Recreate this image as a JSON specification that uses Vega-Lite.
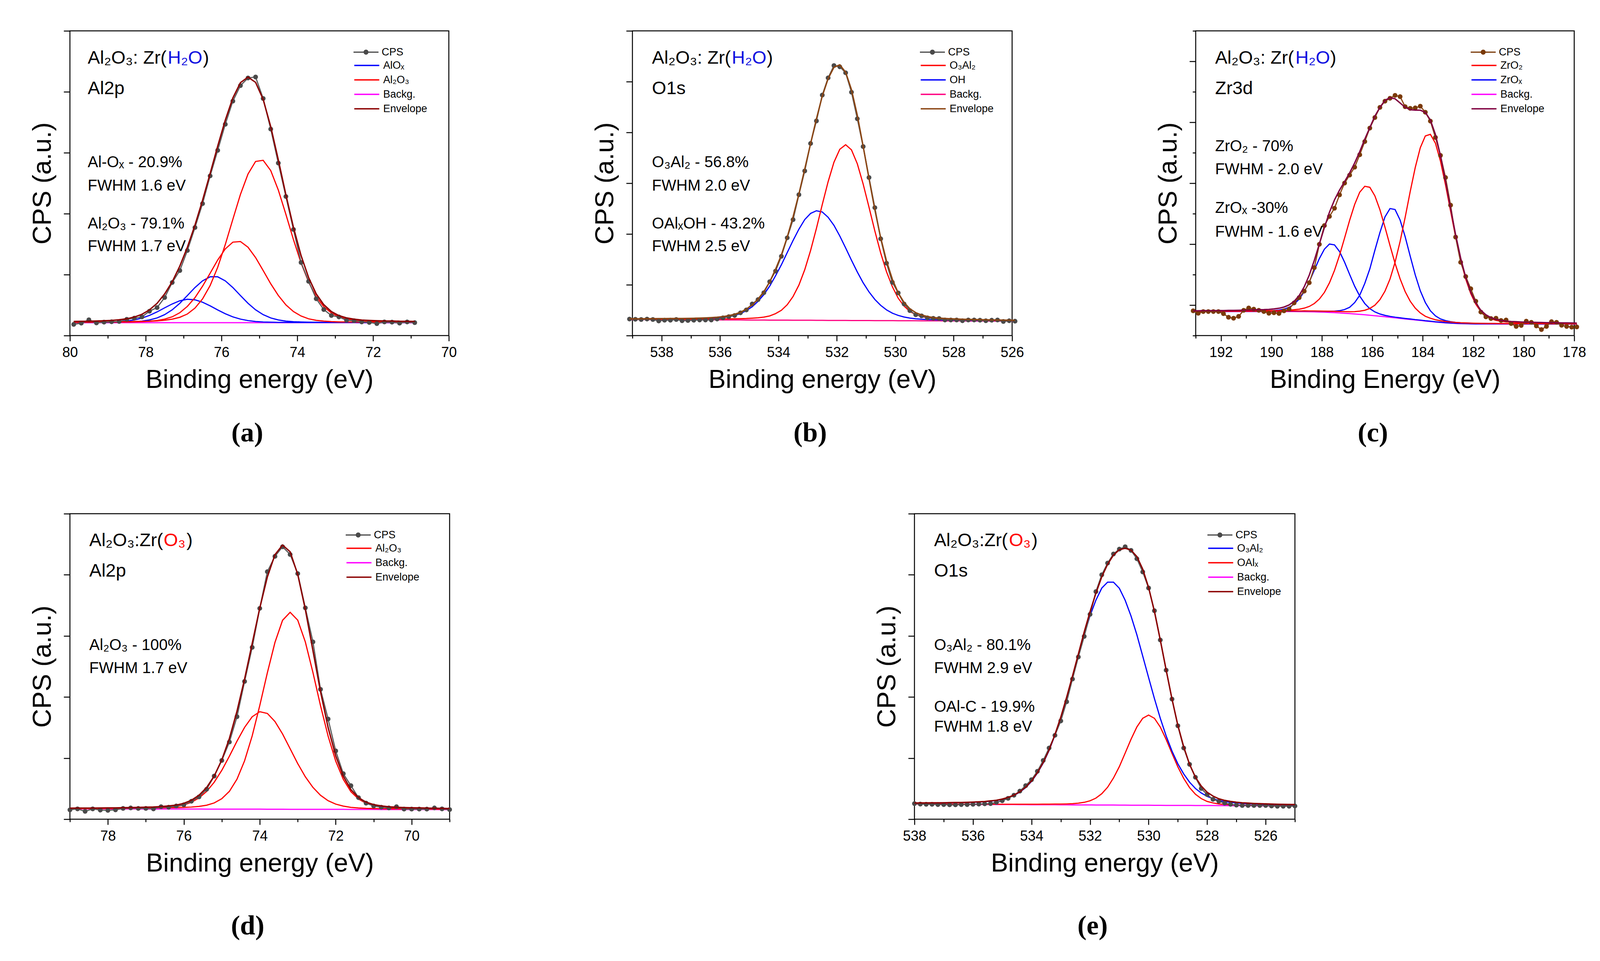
{
"$schema": "https://vega.github.io/schema/vega-lite/v6.json",
"background": "white",
"padding": {"left": 74, "top": 76, "right": 5, "bottom": 5},
"config": {
 "font": "Liberation Sans",
 "view": {"stroke": "black", "strokeWidth": 2.5},
 "axis": {"domain": false, "grid": false, "tickColor": "black", "tickWidth": 2.5, "labelColor": "black", "titleColor": "black", "titleFontWeight": "normal", "labelFlush": false, "labelOverlap": false, "labelFont": "Liberation Sans", "titleFont": "Liberation Sans"},
 "axisX": {"tickSize": 14, "labelFontSize": 36, "labelPadding": 12, "titleFontSize": 66, "titlePadding": 20, "format": "d"},
 "axisY": {"tickSize": 16, "labels": false, "titleFontSize": 67, "titlePadding": 18},
 "legend": {"orient": "none", "symbolType": "stroke", "symbolSize": 4096, "symbolStrokeWidth": 3.5, "clipHeight": 37, "rowPadding": 0, "labelFontSize": 27, "labelFont": "Liberation Sans", "labelColor": "black", "labelOffset": 8, "padding": 0},
 "title": {"orient": "bottom", "font": "Liberation Serif", "fontSize": 70, "fontWeight": "bold", "offset": 70, "anchor": "middle", "color": "black", "dx": -31},
 "text": {"font": "Liberation Sans", "color": "black", "align": "left", "baseline": "alphabetic"}
},
"datasets": {
"a": [
{"x":79.9,"cps":184,"b1":216,"b2":215,"r1":221,"r2":217,"bg":212,"env":233},
{"x":79.7,"cps":204,"b1":216,"b2":215,"r1":221,"r2":218,"bg":212,"env":234},
{"x":79.5,"cps":259,"b1":216,"b2":215,"r1":222,"r2":218,"bg":212,"env":235},
{"x":79.3,"cps":208,"b1":217,"b2":216,"r1":223,"r2":219,"bg":212,"env":239},
{"x":79.1,"cps":220,"b1":217,"b2":218,"r1":225,"r2":220,"bg":212,"env":244},
{"x":78.9,"cps":227,"b1":218,"b2":221,"r1":226,"r2":220,"bg":212,"env":249},
{"x":78.7,"cps":231,"b1":220,"b2":227,"r1":227,"r2":221,"bg":212,"env":259},
{"x":78.5,"cps":267,"b1":223,"b2":237,"r1":228,"r2":223,"bg":212,"env":275},
{"x":78.3,"cps":286,"b1":228,"b2":257,"r1":230,"r2":225,"bg":212,"env":304},
{"x":78.1,"cps":306,"b1":237,"b2":287,"r1":232,"r2":229,"bg":212,"env":349},
{"x":77.9,"cps":400,"b1":256,"b2":331,"r1":236,"r2":235,"bg":212,"env":422},
{"x":77.7,"cps":459,"b1":289,"b2":388,"r1":241,"r2":247,"bg":212,"env":529},
{"x":77.5,"cps":624,"b1":343,"b2":455,"r1":251,"r2":270,"bg":212,"env":683},
{"x":77.3,"cps":871,"b1":423,"b2":519,"r1":269,"r2":308,"bg":212,"env":883},
{"x":77.1,"cps":1067,"b1":530,"b2":571,"r1":300,"r2":375,"bg":212,"env":1140},
{"x":76.9,"cps":1396,"b1":657,"b2":596,"r1":354,"r2":479,"bg":212,"env":1450},
{"x":76.7,"cps":1773,"b1":788,"b2":587,"r1":451,"r2":622,"bg":212,"env":1812},
{"x":76.5,"cps":2165,"b1":898,"b2":547,"r1":601,"r2":810,"bg":212,"env":2220},
{"x":76.3,"cps":2620,"b1":964,"b2":488,"r1":820,"r2":1023,"bg":212,"env":2659},
{"x":76.1,"cps":3039,"b1":964,"b2":421,"r1":1120,"r2":1240,"bg":212,"env":3109},
{"x":75.9,"cps":3467,"b1":898,"b2":358,"r1":1493,"r2":1422,"bg":212,"env":3535},
{"x":75.7,"cps":3847,"b1":788,"b2":307,"r1":1908,"r2":1533,"bg":212,"env":3900},
{"x":75.5,"cps":4102,"b1":657,"b2":270,"r1":2316,"r2":1543,"bg":212,"env":4150},
{"x":75.3,"cps":4227,"b1":530,"b2":246,"r1":2651,"r2":1450,"bg":212,"env":4241},
{"x":75.1,"cps":4243,"b1":423,"b2":231,"r1":2857,"r2":1280,"bg":212,"env":4155},
{"x":74.9,"cps":3890,"b1":343,"b2":223,"r1":2876,"r2":1068,"bg":212,"env":3874},
{"x":74.7,"cps":3388,"b1":289,"b2":219,"r1":2707,"r2":850,"bg":212,"env":3429},
{"x":74.5,"cps":2831,"b1":256,"b2":217,"r1":2388,"r2":658,"bg":212,"env":2883},
{"x":74.3,"cps":2282,"b1":237,"b2":216,"r1":1989,"r2":504,"bg":212,"env":2310},
{"x":74.1,"cps":1741,"b1":228,"b2":215,"r1":1573,"r2":394,"bg":212,"env":1774},
{"x":73.9,"cps":1200,"b1":223,"b2":215,"r1":1190,"r2":321,"bg":212,"env":1313},
{"x":73.7,"cps":890,"b1":220,"b2":215,"r1":877,"r2":275,"bg":212,"env":951},
{"x":73.5,"cps":604,"b1":218,"b2":214,"r1":638,"r2":250,"bg":212,"env":684},
{"x":73.3,"cps":427,"b1":217,"b2":214,"r1":475,"r2":237,"bg":212,"env":507},
{"x":73.1,"cps":329,"b1":217,"b2":214,"r1":370,"r2":229,"bg":212,"env":394},
{"x":72.9,"cps":306,"b1":216,"b2":214,"r1":308,"r2":225,"bg":212,"env":327},
{"x":72.7,"cps":251,"b1":216,"b2":214,"r1":274,"r2":223,"bg":212,"env":291},
{"x":72.5,"cps":243,"b1":216,"b2":214,"r1":254,"r2":222,"bg":212,"env":270},
{"x":72.3,"cps":224,"b1":215,"b2":213,"r1":243,"r2":220,"bg":212,"env":255},
{"x":72.1,"cps":216,"b1":215,"b2":213,"r1":237,"r2":220,"bg":212,"env":249},
{"x":71.9,"cps":196,"b1":215,"b2":213,"r1":233,"r2":219,"bg":212,"env":244},
{"x":71.7,"cps":224,"b1":215,"b2":213,"r1":230,"r2":218,"bg":212,"env":240},
{"x":71.5,"cps":220,"b1":215,"b2":213,"r1":229,"r2":218,"bg":212,"env":239},
{"x":71.3,"cps":204,"b1":214,"b2":213,"r1":227,"r2":217,"bg":212,"env":235},
{"x":71.1,"cps":224,"b1":214,"b2":213,"r1":226,"r2":217,"bg":212,"env":234},
{"x":70.9,"cps":212,"b1":214,"b2":213,"r1":225,"r2":217,"bg":212,"env":233}
],
"b": [
{"x":539.1,"cps":325,"r":323,"b":324,"bg":316,"env":331},
{"x":538.9,"cps":321,"r":323,"b":324,"bg":316,"env":331},
{"x":538.7,"cps":316,"r":322,"b":324,"bg":315,"env":331},
{"x":538.5,"cps":325,"r":323,"b":325,"bg":315,"env":333},
{"x":538.3,"cps":316,"r":322,"b":324,"bg":314,"env":332},
{"x":538.1,"cps":288,"r":323,"b":325,"bg":314,"env":334},
{"x":537.9,"cps":302,"r":322,"b":325,"bg":313,"env":334},
{"x":537.7,"cps":302,"r":323,"b":326,"bg":313,"env":336},
{"x":537.5,"cps":316,"r":323,"b":325,"bg":312,"env":336},
{"x":537.3,"cps":292,"r":323,"b":326,"bg":312,"env":337},
{"x":537.1,"cps":297,"r":323,"b":327,"bg":311,"env":339},
{"x":536.9,"cps":302,"r":324,"b":328,"bg":311,"env":341},
{"x":536.7,"cps":307,"r":324,"b":330,"bg":310,"env":344},
{"x":536.5,"cps":307,"r":325,"b":333,"bg":310,"env":348},
{"x":536.3,"cps":307,"r":326,"b":337,"bg":309,"env":354},
{"x":536.1,"cps":325,"r":327,"b":344,"bg":309,"env":362},
{"x":535.9,"cps":349,"r":328,"b":354,"bg":308,"env":374},
{"x":535.7,"cps":373,"r":329,"b":371,"bg":308,"env":392},
{"x":535.5,"cps":396,"r":331,"b":395,"bg":307,"env":419},
{"x":535.3,"cps":448,"r":333,"b":432,"bg":307,"env":458},
{"x":535.1,"cps":505,"r":336,"b":492,"bg":306,"env":522},
{"x":534.9,"cps":623,"r":342,"b":567,"bg":306,"env":603},
{"x":534.7,"cps":708,"r":350,"b":674,"bg":305,"env":719},
{"x":534.5,"cps":844,"r":364,"b":806,"bg":305,"env":865},
{"x":534.3,"cps":1061,"r":387,"b":974,"bg":304,"env":1057},
{"x":534.1,"cps":1269,"r":432,"b":1177,"bg":304,"env":1305},
{"x":533.9,"cps":1561,"r":497,"b":1394,"bg":303,"env":1588},
{"x":533.7,"cps":1925,"r":607,"b":1634,"bg":303,"env":1938},
{"x":533.5,"cps":2283,"r":769,"b":1872,"bg":302,"env":2339},
{"x":533.3,"cps":2774,"r":994,"b":2095,"bg":302,"env":2787},
{"x":533.1,"cps":3241,"r":1297,"b":2284,"bg":301,"env":3280},
{"x":532.9,"cps":3783,"r":1675,"b":2405,"bg":301,"env":3779},
{"x":532.7,"cps":4226,"r":2110,"b":2458,"bg":300,"env":4268},
{"x":532.5,"cps":4736,"r":2580,"b":2434,"bg":300,"env":4714},
{"x":532.3,"cps":5075,"r":3029,"b":2329,"bg":299,"env":5059},
{"x":532.1,"cps":5316,"r":3413,"b":2170,"bg":299,"env":5284},
{"x":531.9,"cps":5292,"r":3668,"b":1961,"bg":298,"env":5331},
{"x":531.7,"cps":5175,"r":3758,"b":1726,"bg":298,"env":5186},
{"x":531.5,"cps":4792,"r":3657,"b":1483,"bg":297,"env":4843},
{"x":531.3,"cps":4269,"r":3383,"b":1252,"bg":297,"env":4338},
{"x":531.1,"cps":3722,"r":2984,"b":1039,"bg":296,"env":3727},
{"x":530.9,"cps":3113,"r":2528,"b":860,"bg":296,"env":3092},
{"x":530.7,"cps":2519,"r":2060,"b":712,"bg":295,"env":2477},
{"x":530.5,"cps":1906,"r":1627,"b":595,"bg":295,"env":1927},
{"x":530.3,"cps":1425,"r":1256,"b":506,"bg":294,"env":1468},
{"x":530.1,"cps":1047,"r":962,"b":441,"bg":294,"env":1109},
{"x":529.9,"cps":840,"r":736,"b":397,"bg":293,"env":840},
{"x":529.7,"cps":623,"r":580,"b":366,"bg":293,"env":653},
{"x":529.5,"cps":491,"r":475,"b":344,"bg":292,"env":527},
{"x":529.3,"cps":410,"r":413,"b":331,"bg":292,"env":452},
{"x":529.1,"cps":387,"r":374,"b":321,"bg":291,"env":404},
{"x":528.9,"cps":349,"r":350,"b":316,"bg":291,"env":375},
{"x":528.7,"cps":340,"r":334,"b":311,"bg":290,"env":355},
{"x":528.5,"cps":335,"r":326,"b":308,"bg":290,"env":344},
{"x":528.3,"cps":307,"r":319,"b":306,"bg":289,"env":336},
{"x":528.1,"cps":307,"r":315,"b":304,"bg":289,"env":330},
{"x":527.9,"cps":307,"r":312,"b":302,"bg":288,"env":326},
{"x":527.7,"cps":292,"r":309,"b":301,"bg":288,"env":322},
{"x":527.5,"cps":307,"r":307,"b":299,"bg":287,"env":319},
{"x":527.3,"cps":307,"r":305,"b":298,"bg":287,"env":316},
{"x":527.1,"cps":302,"r":303,"b":297,"bg":286,"env":314},
{"x":526.9,"cps":292,"r":301,"b":296,"bg":286,"env":311},
{"x":526.7,"cps":302,"r":299,"b":294,"bg":285,"env":308},
{"x":526.5,"cps":307,"r":298,"b":294,"bg":285,"env":307},
{"x":526.3,"cps":278,"r":296,"b":292,"bg":284,"env":304},
{"x":526.1,"cps":292,"r":295,"b":292,"bg":284,"env":303},
{"x":525.9,"cps":283,"r":293,"b":290,"bg":283,"env":300}
],
"c": [
{"x":193.1,"cps":406,"r1":397,"r2":398,"b1":396,"b2":396,"bg":394,"env":405},
{"x":192.9,"cps":366,"r1":398,"r2":399,"b1":396,"b2":396,"bg":394,"env":407},
{"x":192.7,"cps":394,"r1":398,"r2":399,"b1":396,"b2":397,"bg":394,"env":408},
{"x":192.5,"cps":394,"r1":398,"r2":399,"b1":396,"b2":397,"bg":394,"env":408},
{"x":192.3,"cps":394,"r1":398,"r2":400,"b1":396,"b2":397,"bg":394,"env":409},
{"x":192.1,"cps":394,"r1":398,"r2":400,"b1":396,"b2":398,"bg":394,"env":410},
{"x":191.9,"cps":359,"r1":399,"r2":400,"b1":396,"b2":398,"bg":394,"env":411},
{"x":191.7,"cps":300,"r1":399,"r2":401,"b1":397,"b2":398,"bg":394,"env":413},
{"x":191.5,"cps":284,"r1":399,"r2":401,"b1":397,"b2":399,"bg":394,"env":414},
{"x":191.3,"cps":315,"r1":399,"r2":402,"b1":397,"b2":399,"bg":394,"env":415},
{"x":191.1,"cps":414,"r1":400,"r2":402,"b1":397,"b2":400,"bg":394,"env":417},
{"x":190.9,"cps":453,"r1":400,"r2":403,"b1":397,"b2":400,"bg":394,"env":418},
{"x":190.7,"cps":433,"r1":400,"r2":404,"b1":398,"b2":401,"bg":394,"env":421},
{"x":190.5,"cps":414,"r1":401,"r2":405,"b1":398,"b2":402,"bg":394,"env":424},
{"x":190.3,"cps":394,"r1":401,"r2":406,"b1":398,"b2":403,"bg":394,"env":426},
{"x":190.1,"cps":366,"r1":401,"r2":407,"b1":398,"b2":406,"bg":394,"env":430},
{"x":189.9,"cps":374,"r1":402,"r2":409,"b1":399,"b2":410,"bg":394,"env":438},
{"x":189.7,"cps":363,"r1":403,"r2":410,"b1":399,"b2":418,"bg":394,"env":448},
{"x":189.5,"cps":406,"r1":403,"r2":413,"b1":400,"b2":434,"bg":394,"env":468},
{"x":189.3,"cps":433,"r1":404,"r2":417,"b1":400,"b2":463,"bg":394,"env":502},
{"x":189.1,"cps":536,"r1":404,"r2":424,"b1":401,"b2":515,"bg":394,"env":562},
{"x":188.9,"cps":623,"r1":404,"r2":433,"b1":401,"b2":597,"bg":393,"env":656},
{"x":188.7,"cps":729,"r1":405,"r2":450,"b1":402,"b2":722,"bg":393,"env":800},
{"x":188.5,"cps":867,"r1":404,"r2":478,"b1":401,"b2":881,"bg":391,"env":991},
{"x":188.3,"cps":1115,"r1":404,"r2":526,"b1":401,"b2":1073,"bg":390,"env":1234},
{"x":188.1,"cps":1498,"r1":403,"r2":599,"b1":399,"b2":1263,"bg":387,"env":1503},
{"x":187.9,"cps":1805,"r1":401,"r2":708,"b1":398,"b2":1418,"bg":384,"env":1773},
{"x":187.7,"cps":1955,"r1":399,"r2":865,"b1":398,"b2":1502,"bg":380,"env":2024},
{"x":187.5,"cps":2089,"r1":397,"r2":1069,"b1":400,"b2":1488,"bg":376,"env":2226},
{"x":187.3,"cps":2309,"r1":394,"r2":1319,"b1":408,"b2":1379,"bg":371,"env":2387},
{"x":187.1,"cps":2502,"r1":392,"r2":1602,"b1":427,"b2":1204,"bg":366,"env":2527},
{"x":186.9,"cps":2633,"r1":391,"r2":1891,"b1":464,"b2":1003,"bg":360,"env":2669},
{"x":186.7,"cps":2763,"r1":393,"r2":2152,"b1":541,"b2":809,"bg":354,"env":2833},
{"x":186.5,"cps":2967,"r1":400,"r2":2353,"b1":661,"b2":648,"bg":348,"env":3018},
{"x":186.3,"cps":3184,"r1":415,"r2":2450,"b1":856,"b2":526,"bg":341,"env":3224},
{"x":186.1,"cps":3405,"r1":445,"r2":2433,"b1":1094,"b2":442,"bg":334,"env":3412},
{"x":185.9,"cps":3578,"r1":498,"r2":2293,"b1":1399,"b2":388,"bg":326,"env":3600},
{"x":185.7,"cps":3744,"r1":589,"r2":2065,"b1":1690,"b2":354,"bg":318,"env":3744},
{"x":185.5,"cps":3846,"r1":728,"r2":1780,"b1":1947,"b2":332,"bg":309,"env":3860},
{"x":185.3,"cps":3894,"r1":928,"r2":1477,"b1":2084,"b2":315,"bg":300,"env":3904},
{"x":185.1,"cps":3941,"r1":1203,"r2":1186,"b1":2068,"b2":302,"bg":291,"env":3886},
{"x":184.9,"cps":3921,"r1":1545,"r2":931,"b1":1896,"b2":291,"bg":282,"env":3817},
{"x":184.7,"cps":3756,"r1":1939,"r2":722,"b1":1623,"b2":281,"bg":273,"env":3746},
{"x":184.5,"cps":3728,"r1":2362,"r2":564,"b1":1303,"b2":272,"bg":265,"env":3706},
{"x":184.3,"cps":3736,"r1":2757,"r2":451,"b1":996,"b2":262,"bg":256,"env":3698},
{"x":184.1,"cps":3764,"r1":3082,"r2":371,"b1":735,"b2":254,"bg":248,"env":3698},
{"x":183.9,"cps":3665,"r1":3276,"r2":317,"b1":542,"b2":244,"bg":239,"env":3662},
{"x":183.7,"cps":3519,"r1":3302,"r2":284,"b1":407,"b2":236,"bg":231,"env":3536},
{"x":183.5,"cps":3251,"r1":3157,"r2":260,"b1":323,"b2":226,"bg":222,"env":3300},
{"x":183.3,"cps":2956,"r1":2861,"r2":243,"b1":273,"b2":219,"bg":215,"env":2951},
{"x":183.1,"cps":2593,"r1":2473,"r2":231,"b1":245,"b2":212,"bg":209,"env":2534},
{"x":182.9,"cps":2140,"r1":2043,"r2":222,"b1":227,"b2":207,"bg":204,"env":2087},
{"x":182.7,"cps":1616,"r1":1619,"r2":215,"b1":216,"b2":202,"bg":199,"env":1655},
{"x":182.5,"cps":1202,"r1":1240,"r2":210,"b1":210,"b2":199,"bg":196,"env":1271},
{"x":182.3,"cps":969,"r1":927,"r2":207,"b1":206,"b2":197,"bg":194,"env":955},
{"x":182.1,"cps":768,"r1":688,"r2":204,"b1":203,"b2":194,"bg":192,"env":713},
{"x":181.9,"cps":564,"r1":514,"r2":202,"b1":201,"b2":193,"bg":191,"env":537},
{"x":181.7,"cps":386,"r1":393,"r2":200,"b1":199,"b2":192,"bg":190,"env":414},
{"x":181.5,"cps":307,"r1":322,"r2":199,"b1":198,"b2":192,"bg":190,"env":341},
{"x":181.3,"cps":280,"r1":276,"r2":198,"b1":197,"b2":192,"bg":190,"env":293},
{"x":181.1,"cps":284,"r1":249,"r2":198,"b1":196,"b2":192,"bg":190,"env":265},
{"x":180.9,"cps":248,"r1":234,"r2":197,"b1":196,"b2":192,"bg":190,"env":249},
{"x":180.7,"cps":256,"r1":224,"r2":197,"b1":195,"b2":192,"bg":190,"env":238},
{"x":180.5,"cps":197,"r1":218,"r2":196,"b1":195,"b2":192,"bg":190,"env":231},
{"x":180.3,"cps":150,"r1":214,"r2":196,"b1":195,"b2":192,"bg":190,"env":227},
{"x":180.1,"cps":166,"r1":212,"r2":196,"b1":194,"b2":191,"bg":190,"env":223},
{"x":179.9,"cps":236,"r1":209,"r2":195,"b1":194,"b2":191,"bg":190,"env":219},
{"x":179.7,"cps":217,"r1":208,"r2":195,"b1":194,"b2":191,"bg":190,"env":218},
{"x":179.5,"cps":158,"r1":206,"r2":195,"b1":194,"b2":191,"bg":190,"env":216},
{"x":179.3,"cps":99,"r1":205,"r2":195,"b1":193,"b2":191,"bg":190,"env":214},
{"x":179.1,"cps":150,"r1":204,"r2":194,"b1":193,"b2":191,"bg":190,"env":212},
{"x":178.9,"cps":229,"r1":203,"r2":194,"b1":193,"b2":191,"bg":190,"env":211},
{"x":178.7,"cps":217,"r1":202,"r2":194,"b1":193,"b2":191,"bg":190,"env":210},
{"x":178.5,"cps":169,"r1":201,"r2":194,"b1":193,"b2":191,"bg":190,"env":209},
{"x":178.3,"cps":150,"r1":200,"r2":194,"b1":193,"b2":191,"bg":190,"env":208},
{"x":178.1,"cps":138,"r1":200,"r2":193,"b1":192,"b2":191,"bg":190,"env":206},
{"x":177.9,"cps":142,"r1":199,"r2":193,"b1":192,"b2":191,"bg":190,"env":205}
],
"d": [
{"x":79.0,"cps":153,"r1":176,"r2":175,"bg":170,"env":181},
{"x":78.8,"cps":169,"r1":177,"r2":175,"bg":170,"env":182},
{"x":78.6,"cps":129,"r1":176,"r2":175,"bg":169,"env":182},
{"x":78.4,"cps":169,"r1":177,"r2":175,"bg":169,"env":183},
{"x":78.2,"cps":149,"r1":177,"r2":176,"bg":169,"env":184},
{"x":78.0,"cps":145,"r1":178,"r2":177,"bg":169,"env":186},
{"x":77.8,"cps":153,"r1":178,"r2":176,"bg":168,"env":186},
{"x":77.6,"cps":176,"r1":179,"r2":177,"bg":168,"env":188},
{"x":77.4,"cps":184,"r1":180,"r2":178,"bg":168,"env":190},
{"x":77.2,"cps":176,"r1":181,"r2":180,"bg":168,"env":193},
{"x":77.0,"cps":176,"r1":182,"r2":181,"bg":167,"env":196},
{"x":76.8,"cps":169,"r1":184,"r2":183,"bg":167,"env":200},
{"x":76.6,"cps":204,"r1":186,"r2":188,"bg":167,"env":207},
{"x":76.4,"cps":196,"r1":188,"r2":196,"bg":167,"env":217},
{"x":76.2,"cps":216,"r1":189,"r2":208,"bg":166,"env":231},
{"x":76.0,"cps":235,"r1":193,"r2":233,"bg":166,"env":260},
{"x":75.8,"cps":294,"r1":199,"r2":277,"bg":166,"env":310},
{"x":75.6,"cps":365,"r1":210,"r2":348,"bg":166,"env":392},
{"x":75.4,"cps":490,"r1":229,"r2":454,"bg":165,"env":518},
{"x":75.2,"cps":706,"r1":266,"r2":605,"bg":165,"env":706},
{"x":75.0,"cps":961,"r1":336,"r2":800,"bg":165,"env":971},
{"x":74.8,"cps":1263,"r1":456,"r2":1031,"bg":165,"env":1322},
{"x":74.6,"cps":1678,"r1":655,"r2":1277,"bg":164,"env":1768},
{"x":74.4,"cps":2255,"r1":956,"r2":1503,"bg":164,"env":2295},
{"x":74.2,"cps":2812,"r1":1363,"r2":1676,"bg":164,"env":2875},
{"x":74.0,"cps":3451,"r1":1860,"r2":1760,"bg":164,"env":3456},
{"x":73.8,"cps":4051,"r1":2397,"r2":1731,"bg":163,"env":3965},
{"x":73.6,"cps":4302,"r1":2893,"r2":1599,"bg":163,"env":4329},
{"x":73.4,"cps":4459,"r1":3255,"r2":1395,"bg":163,"env":4487},
{"x":73.2,"cps":4333,"r1":3386,"r2":1153,"bg":162,"env":4377},
{"x":73.0,"cps":4020,"r1":3258,"r2":910,"bg":162,"env":4006},
{"x":72.8,"cps":3459,"r1":2901,"r2":694,"bg":162,"env":3433},
{"x":72.6,"cps":2902,"r1":2401,"r2":521,"bg":162,"env":2760},
{"x":72.4,"cps":2125,"r1":1858,"r2":391,"bg":161,"env":2088},
{"x":72.2,"cps":1639,"r1":1359,"r2":303,"bg":161,"env":1501},
{"x":72.0,"cps":1118,"r1":951,"r2":247,"bg":161,"env":1037},
{"x":71.8,"cps":745,"r1":652,"r2":214,"bg":161,"env":705},
{"x":71.6,"cps":549,"r1":451,"r2":194,"bg":160,"env":485},
{"x":71.4,"cps":353,"r1":330,"r2":184,"bg":160,"env":354},
{"x":71.2,"cps":263,"r1":260,"r2":178,"bg":160,"env":278},
{"x":71.0,"cps":216,"r1":223,"r2":175,"bg":160,"env":238},
{"x":70.8,"cps":196,"r1":204,"r2":172,"bg":159,"env":217},
{"x":70.6,"cps":184,"r1":192,"r2":170,"bg":159,"env":203},
{"x":70.4,"cps":204,"r1":186,"r2":169,"bg":159,"env":196},
{"x":70.2,"cps":165,"r1":182,"r2":168,"bg":159,"env":191},
{"x":70.0,"cps":165,"r1":179,"r2":166,"bg":158,"env":187},
{"x":69.8,"cps":165,"r1":177,"r2":166,"bg":158,"env":185},
{"x":69.6,"cps":165,"r1":175,"r2":165,"bg":158,"env":182},
{"x":69.4,"cps":184,"r1":173,"r2":164,"bg":158,"env":179},
{"x":69.2,"cps":169,"r1":171,"r2":163,"bg":157,"env":177},
{"x":69.0,"cps":157,"r1":169,"r2":162,"bg":157,"env":174}
],
"e": [
{"x":538.0,"cps":255,"b":263,"r":249,"bg":247,"env":265},
{"x":537.8,"cps":247,"b":265,"r":249,"bg":247,"env":267},
{"x":537.6,"cps":243,"b":265,"r":248,"bg":246,"env":267},
{"x":537.4,"cps":243,"b":266,"r":248,"bg":246,"env":268},
{"x":537.2,"cps":239,"b":266,"r":247,"bg":245,"env":268},
{"x":537.0,"cps":239,"b":267,"r":247,"bg":245,"env":269},
{"x":536.8,"cps":235,"b":268,"r":247,"bg":244,"env":271},
{"x":536.6,"cps":235,"b":270,"r":247,"bg":244,"env":273},
{"x":536.4,"cps":239,"b":270,"r":246,"bg":243,"env":273},
{"x":536.2,"cps":239,"b":273,"r":246,"bg":243,"env":276},
{"x":536.0,"cps":243,"b":276,"r":245,"bg":242,"env":279},
{"x":535.8,"cps":247,"b":280,"r":246,"bg":242,"env":284},
{"x":535.6,"cps":251,"b":286,"r":245,"bg":241,"env":290},
{"x":535.4,"cps":255,"b":296,"r":245,"bg":241,"env":300},
{"x":535.2,"cps":275,"b":306,"r":244,"bg":240,"env":310},
{"x":535.0,"cps":302,"b":324,"r":245,"bg":240,"env":329},
{"x":534.8,"cps":341,"b":352,"r":244,"bg":239,"env":357},
{"x":534.6,"cps":392,"b":389,"r":244,"bg":239,"env":394},
{"x":534.4,"cps":459,"b":443,"r":244,"bg":238,"env":449},
{"x":534.2,"cps":549,"b":517,"r":244,"bg":238,"env":523},
{"x":534.0,"cps":647,"b":618,"r":244,"bg":237,"env":625},
{"x":533.8,"cps":784,"b":753,"r":245,"bg":237,"env":761},
{"x":533.6,"cps":961,"b":918,"r":246,"bg":237,"env":927},
{"x":533.4,"cps":1165,"b":1125,"r":246,"bg":236,"env":1135},
{"x":533.2,"cps":1373,"b":1374,"r":247,"bg":236,"env":1385},
{"x":533.0,"cps":1608,"b":1659,"r":247,"bg":235,"env":1671},
{"x":532.8,"cps":1922,"b":1981,"r":250,"bg":235,"env":1996},
{"x":532.6,"cps":2294,"b":2324,"r":254,"bg":234,"env":2344},
{"x":532.4,"cps":2655,"b":2675,"r":262,"bg":234,"env":2703},
{"x":532.2,"cps":2992,"b":3022,"r":276,"bg":233,"env":3065},
{"x":532.0,"cps":3353,"b":3329,"r":301,"bg":233,"env":3397},
{"x":531.8,"cps":3725,"b":3585,"r":345,"bg":232,"env":3698},
{"x":531.6,"cps":4000,"b":3782,"r":417,"bg":232,"env":3967},
{"x":531.4,"cps":4192,"b":3880,"r":523,"bg":231,"env":4172},
{"x":531.2,"cps":4341,"b":3880,"r":674,"bg":231,"env":4323},
{"x":531.0,"cps":4420,"b":3780,"r":860,"bg":230,"env":4410},
{"x":530.8,"cps":4459,"b":3583,"r":1082,"bg":230,"env":4435},
{"x":530.6,"cps":4400,"b":3325,"r":1308,"bg":229,"env":4404},
{"x":530.4,"cps":4263,"b":3018,"r":1510,"bg":229,"env":4299},
{"x":530.2,"cps":4047,"b":2669,"r":1652,"bg":228,"env":4093},
{"x":530.0,"cps":3784,"b":2318,"r":1704,"bg":228,"env":3794},
{"x":529.8,"cps":3412,"b":1973,"r":1651,"bg":227,"env":3397},
{"x":529.6,"cps":2933,"b":1651,"r":1508,"bg":227,"env":2932},
{"x":529.4,"cps":2439,"b":1364,"r":1305,"bg":226,"env":2443},
{"x":529.2,"cps":1965,"b":1115,"r":1078,"bg":226,"env":1967},
{"x":529.0,"cps":1529,"b":907,"r":856,"bg":226,"env":1537},
{"x":528.8,"cps":1165,"b":741,"r":668,"bg":225,"env":1184},
{"x":528.6,"cps":898,"b":606,"r":517,"bg":225,"env":898},
{"x":528.4,"cps":686,"b":503,"r":409,"bg":224,"env":688},
{"x":528.2,"cps":502,"b":429,"r":337,"bg":224,"env":542},
{"x":528.0,"cps":404,"b":373,"r":291,"bg":223,"env":441},
{"x":527.8,"cps":325,"b":336,"r":266,"bg":223,"env":379},
{"x":527.6,"cps":294,"b":306,"r":250,"bg":222,"env":334},
{"x":527.4,"cps":263,"b":288,"r":242,"bg":222,"env":308},
{"x":527.2,"cps":243,"b":276,"r":236,"bg":221,"env":291},
{"x":527.0,"cps":231,"b":266,"r":233,"bg":221,"env":278},
{"x":526.8,"cps":224,"b":258,"r":231,"bg":220,"env":269},
{"x":526.6,"cps":224,"b":254,"r":230,"bg":220,"env":264},
{"x":526.4,"cps":224,"b":249,"r":228,"bg":219,"env":258},
{"x":526.2,"cps":224,"b":246,"r":227,"bg":219,"env":254},
{"x":526.0,"cps":224,"b":244,"r":225,"bg":218,"env":251},
{"x":525.8,"cps":216,"b":242,"r":224,"bg":218,"env":248},
{"x":525.6,"cps":212,"b":239,"r":223,"bg":217,"env":245},
{"x":525.4,"cps":212,"b":238,"r":222,"bg":217,"env":243},
{"x":525.2,"cps":212,"b":236,"r":221,"bg":216,"env":241},
{"x":525.0,"cps":216,"b":235,"r":221,"bg":216,"env":240}
]
},
"vconcat": [
{
"hconcat": [
{
 "width": 970, "height": 780,
 "data": {"name": "a"},
 "title": {"text": "(a)"},
 "resolve": {"scale": {"color": "independent"}, "axis": {"x": "independent", "y": "independent"}},
 "layer": [
  {"transform": [{"fold": ["bg","b2","b1","r2","r1"], "as": ["curve","v"]}],
   "mark": {"type": "line", "strokeWidth": 3},
   "encoding": {
    "x": {"field": "x", "type": "quantitative", "scale": {"domain": [70, 80], "reverse": true, "nice": false, "zero": false}, "axis": {"orient": "bottom", "values": [70,72,74,76,78,80], "title": "Binding energy (eV)"}},
    "y": {"field": "v", "type": "quantitative", "scale": {"domain": [0, 5000], "nice": false, "zero": false}, "axis": {"orient": "left", "values": [0,1000,2000,3000,4000,5000], "title": "CPS (a.u.)"}},
    "color": {"field": "curve", "type": "nominal", "scale": {"domain": ["b1","b2","r1","r2","bg","env"], "range": ["#0000FF","#0000FF","#FF0000","#FF0000","#FF00FF","#8B0000"]}, "legend": {"title": null, "values": ["b1","r1","bg","env"], "labelExpr": "datum.value=='b1'?'AlOₓ':datum.value=='r1'?'Al₂O₃':datum.value=='bg'?'Backg.':'Envelope'", "legendX": 726, "legendY": 70}}
   }},
  {"mark": {"type": "line", "color": "#5a5a5a", "strokeWidth": 3},
   "encoding": {
    "x": {"field": "x", "type": "quantitative", "axis": {"orient": "bottom", "values": [71,73,75,77,79], "tickSize": 7, "labels": false, "title": null}},
    "y": {"field": "cps", "type": "quantitative", "axis": null}}},
  {"mark": {"type": "point", "filled": true, "size": 150, "opacity": 1},
   "encoding": {
    "x": {"field": "x", "type": "quantitative", "axis": null},
    "y": {"field": "cps", "type": "quantitative", "axis": null},
    "color": {"datum": "CPS", "type": "nominal", "scale": {"range": ["#4a4a4a"]}, "legend": {"title": null, "symbolType": "M-1,-0.045H1V0.045H-1Z M0.2,0A0.2,0.2,0,1,1,-0.2,0A0.2,0.2,0,1,1,0.2,0Z", "symbolStrokeWidth": 0, "legendX": 726, "legendY": 36}}}},
  {"mark": {"type": "line", "color": "#8B0000", "strokeWidth": 3.5},
   "encoding": {
    "x": {"field": "x", "type": "quantitative", "axis": null},
    "y": {"field": "env", "type": "quantitative", "axis": null}}},
  {"data": {"values": [{}]}, "mark": {"type": "text", "fontSize": 47}, "encoding": {"x": {"datum": 79.53, "axis": null}, "y": {"datum": 4462, "axis": null}, "text": {"value": "Al₂O₃: Zr("}}},
  {"data": {"values": [{}]}, "mark": {"type": "text", "fontSize": 47, "color": "#1010E0"}, "encoding": {"x": {"datum": 77.42, "axis": null}, "y": {"datum": 4462, "axis": null}, "text": {"value": "H₂O"}}},
  {"data": {"values": [{}]}, "mark": {"type": "text", "fontSize": 47}, "encoding": {"x": {"datum": 76.49, "axis": null}, "y": {"datum": 4462, "axis": null}, "text": {"value": ")"}}},
  {"data": {"values": [{}]}, "mark": {"type": "text", "fontSize": 47}, "encoding": {"x": {"datum": 79.53, "axis": null}, "y": {"datum": 3963, "axis": null}, "text": {"value": "Al2p"}}},
  {"data": {"values": [{}]}, "mark": {"type": "text", "fontSize": 40, "lineHeight": 60}, "encoding": {"x": {"datum": 79.53, "axis": null}, "y": {"datum": 2766, "axis": null}, "text": {"value": ["Al-Oₓ - 20.9%", "FWHM 1.6 eV"]}}},
  {"data": {"values": [{}]}, "mark": {"type": "text", "fontSize": 40, "lineHeight": 58}, "encoding": {"x": {"datum": 79.53, "axis": null}, "y": {"datum": 1754, "axis": null}, "text": {"value": ["Al₂O₃ - 79.1%", "FWHM 1.7 eV"]}}}
 ]
},
{
 "width": 972, "height": 780,
 "data": {"name": "b"},
 "title": {"text": "(b)"},
 "resolve": {"scale": {"color": "independent"}, "axis": {"x": "independent", "y": "independent"}},
 "layer": [
  {"transform": [{"fold": ["bg","b","r"], "as": ["curve","v"]}],
   "mark": {"type": "line", "strokeWidth": 3},
   "encoding": {
    "x": {"field": "x", "type": "quantitative", "scale": {"domain": [526, 539], "reverse": true, "nice": false, "zero": false}, "axis": {"orient": "bottom", "values": [526,528,530,532,534,536,538], "title": "Binding energy (eV)"}},
    "y": {"field": "v", "type": "quantitative", "scale": {"domain": [0, 6000], "nice": false, "zero": false}, "axis": {"orient": "left", "values": [0,1000,2000,3000,4000,5000,6000], "title": "CPS (a.u.)"}},
    "color": {"field": "curve", "type": "nominal", "scale": {"domain": ["r","b","bg","env"], "range": ["#FF0000","#0000FF","#FF0080","#8B4513"]}, "legend": {"title": null, "values": ["r","b","bg","env"], "labelExpr": "datum.value=='r'?'O₃Al₂':datum.value=='b'?'OH':datum.value=='bg'?'Backg.':'Envelope'", "legendX": 736, "legendY": 70}}
   }},
  {"mark": {"type": "line", "color": "#5a5a5a", "strokeWidth": 3},
   "encoding": {
    "x": {"field": "x", "type": "quantitative", "axis": {"orient": "bottom", "values": [527,529,531,533,535,537,539], "tickSize": 7, "labels": false, "title": null}},
    "y": {"field": "cps", "type": "quantitative", "axis": null}}},
  {"mark": {"type": "point", "filled": true, "size": 150, "opacity": 1},
   "encoding": {
    "x": {"field": "x", "type": "quantitative", "axis": null},
    "y": {"field": "cps", "type": "quantitative", "axis": null},
    "color": {"datum": "CPS", "type": "nominal", "scale": {"range": ["#4a4a4a"]}, "legend": {"title": null, "symbolType": "M-1,-0.045H1V0.045H-1Z M0.2,0A0.2,0.2,0,1,1,-0.2,0A0.2,0.2,0,1,1,0.2,0Z", "symbolStrokeWidth": 0, "legendX": 736, "legendY": 36}}}},
  {"mark": {"type": "line", "color": "#8B4513", "strokeWidth": 3.5},
   "encoding": {
    "x": {"field": "x", "type": "quantitative", "axis": null},
    "y": {"field": "env", "type": "quantitative", "axis": null}}},
  {"data": {"values": [{}]}, "mark": {"type": "text", "fontSize": 47}, "encoding": {"x": {"datum": 538.33, "axis": null}, "y": {"datum": 5353, "axis": null}, "text": {"value": "Al₂O₃: Zr("}}},
  {"data": {"values": [{}]}, "mark": {"type": "text", "fontSize": 47, "color": "#1010E0"}, "encoding": {"x": {"datum": 535.6, "axis": null}, "y": {"datum": 5353, "axis": null}, "text": {"value": "H₂O"}}},
  {"data": {"values": [{}]}, "mark": {"type": "text", "fontSize": 47}, "encoding": {"x": {"datum": 534.4, "axis": null}, "y": {"datum": 5353, "axis": null}, "text": {"value": ")"}}},
  {"data": {"values": [{}]}, "mark": {"type": "text", "fontSize": 47}, "encoding": {"x": {"datum": 538.33, "axis": null}, "y": {"datum": 4754, "axis": null}, "text": {"value": "O1s"}}},
  {"data": {"values": [{}]}, "mark": {"type": "text", "fontSize": 40, "lineHeight": 60}, "encoding": {"x": {"datum": 538.33, "axis": null}, "y": {"datum": 3318, "axis": null}, "text": {"value": ["O₃Al₂ - 56.8%", "FWHM 2.0 eV"]}}},
  {"data": {"values": [{}]}, "mark": {"type": "text", "fontSize": 40, "lineHeight": 58}, "encoding": {"x": {"datum": 538.33, "axis": null}, "y": {"datum": 2104, "axis": null}, "text": {"value": ["OAlₓOH - 43.2%", "FWHM 2.5 eV"]}}}
 ]
},
{
 "width": 969, "height": 780,
 "data": {"name": "c"},
 "title": {"text": "(c)"},
 "resolve": {"scale": {"color": "independent"}, "axis": {"x": "independent", "y": "independent"}},
 "layer": [
  {"transform": [{"fold": ["bg","b2","b1","r2","r1"], "as": ["curve","v"]}],
   "mark": {"type": "line", "strokeWidth": 3},
   "encoding": {
    "x": {"field": "x", "type": "quantitative", "scale": {"domain": [178, 193], "reverse": true, "nice": false, "zero": false}, "axis": {"orient": "bottom", "values": [178,180,182,184,186,188,190,192], "title": "Binding Energy (eV)"}},
    "y": {"field": "v", "type": "quantitative", "scale": {"domain": [0, 5000], "nice": false, "zero": false}, "axis": {"orient": "left", "values": [500,1500,2500,3500,4500], "title": "CPS (a.u.)"}},
    "color": {"field": "curve", "type": "nominal", "scale": {"domain": ["r1","r2","b1","b2","bg","env"], "range": ["#FF0000","#FF0000","#0000FF","#0000FF","#FF00FF","#800040"]}, "legend": {"title": null, "values": ["r1","b1","bg","env"], "labelExpr": "datum.value=='r1'?'ZrO₂':datum.value=='b1'?'ZrOₓ':datum.value=='bg'?'Backg.':'Envelope'", "legendX": 704, "legendY": 70}}
   }},
  {"mark": {"type": "line", "color": "#8B4513", "strokeWidth": 3},
   "encoding": {
    "x": {"field": "x", "type": "quantitative", "axis": {"orient": "bottom", "values": [179,181,183,185,187,189,191,193], "tickSize": 7, "labels": false, "title": null}},
    "y": {"field": "cps", "type": "quantitative", "axis": {"orient": "left", "values": [0,1000,2000,3000,4000,5000], "tickSize": 8, "labels": false, "title": null}}}},
  {"mark": {"type": "point", "filled": true, "size": 150, "opacity": 1},
   "encoding": {
    "x": {"field": "x", "type": "quantitative", "axis": null},
    "y": {"field": "cps", "type": "quantitative", "axis": null},
    "color": {"datum": "CPS", "type": "nominal", "scale": {"range": ["#7a3a08"]}, "legend": {"title": null, "symbolType": "M-1,-0.045H1V0.045H-1Z M0.2,0A0.2,0.2,0,1,1,-0.2,0A0.2,0.2,0,1,1,0.2,0Z", "symbolStrokeWidth": 0, "legendX": 704, "legendY": 36}}}},
  {"mark": {"type": "line", "color": "#800040", "strokeWidth": 3.5},
   "encoding": {
    "x": {"field": "x", "type": "quantitative", "axis": null},
    "y": {"field": "env", "type": "quantitative", "axis": null}}},
  {"data": {"values": [{}]}, "mark": {"type": "text", "fontSize": 47}, "encoding": {"x": {"datum": 192.23, "axis": null}, "y": {"datum": 4461, "axis": null}, "text": {"value": "Al₂O₃: Zr("}}},
  {"data": {"values": [{}]}, "mark": {"type": "text", "fontSize": 47, "color": "#1010E0"}, "encoding": {"x": {"datum": 189.05, "axis": null}, "y": {"datum": 4461, "axis": null}, "text": {"value": "H₂O"}}},
  {"data": {"values": [{}]}, "mark": {"type": "text", "fontSize": 47}, "encoding": {"x": {"datum": 187.67, "axis": null}, "y": {"datum": 4461, "axis": null}, "text": {"value": ")"}}},
  {"data": {"values": [{}]}, "mark": {"type": "text", "fontSize": 47}, "encoding": {"x": {"datum": 192.23, "axis": null}, "y": {"datum": 3960, "axis": null}, "text": {"value": "Zr3d"}}},
  {"data": {"values": [{}]}, "mark": {"type": "text", "fontSize": 40, "lineHeight": 59}, "encoding": {"x": {"datum": 192.23, "axis": null}, "y": {"datum": 3023, "axis": null}, "text": {"value": ["ZrO₂ - 70%", "FWHM - 2.0 eV"]}}},
  {"data": {"values": [{}]}, "mark": {"type": "text", "fontSize": 40, "lineHeight": 61}, "encoding": {"x": {"datum": 192.23, "axis": null}, "y": {"datum": 2015, "axis": null}, "text": {"value": ["ZrOₓ -30%", "FWHM - 1.6 eV"]}}}
 ]
}
],
"spacing": 470,
"bounds": "flush",
"resolve": {"scale": {"color": "independent"}, "legend": {"color": "independent"}}
},
{
"hconcat": [
{
 "width": 972, "height": 782,
 "data": {"name": "d"},
 "title": {"text": "(d)", "offset": 94},
 "resolve": {"scale": {"color": "independent"}, "axis": {"x": "independent", "y": "independent"}},
 "layer": [
  {"transform": [{"fold": ["bg","r2","r1"], "as": ["curve","v"]}],
   "mark": {"type": "line", "strokeWidth": 3},
   "encoding": {
    "x": {"field": "x", "type": "quantitative", "scale": {"domain": [69, 79], "reverse": true, "nice": false, "zero": false}, "axis": {"orient": "bottom", "values": [70,72,74,76,78], "title": "Binding energy (eV)"}},
    "y": {"field": "v", "type": "quantitative", "scale": {"domain": [0, 5000], "nice": false, "zero": false}, "axis": {"orient": "left", "values": [0,1000,2000,3000,4000,5000], "title": "CPS (a.u.)"}},
    "color": {"field": "curve", "type": "nominal", "scale": {"domain": ["r1","r2","bg","env"], "range": ["#FF0000","#FF0000","#FF00FF","#8B0000"]}, "legend": {"title": null, "values": ["r1","bg","env"], "labelExpr": "datum.value=='r1'?'Al₂O₃':datum.value=='bg'?'Backg.':'Envelope'", "legendX": 706, "legendY": 70}}
   }},
  {"mark": {"type": "line", "color": "#5a5a5a", "strokeWidth": 3},
   "encoding": {
    "x": {"field": "x", "type": "quantitative", "axis": {"orient": "bottom", "values": [69,71,73,75,77,79], "tickSize": 7, "labels": false, "title": null}},
    "y": {"field": "cps", "type": "quantitative", "axis": null}}},
  {"mark": {"type": "point", "filled": true, "size": 150, "opacity": 1},
   "encoding": {
    "x": {"field": "x", "type": "quantitative", "axis": null},
    "y": {"field": "cps", "type": "quantitative", "axis": null},
    "color": {"datum": "CPS", "type": "nominal", "scale": {"range": ["#4a4a4a"]}, "legend": {"title": null, "symbolType": "M-1,-0.045H1V0.045H-1Z M0.2,0A0.2,0.2,0,1,1,-0.2,0A0.2,0.2,0,1,1,0.2,0Z", "symbolStrokeWidth": 0, "legendX": 706, "legendY": 36}}}},
  {"mark": {"type": "line", "color": "#8B0000", "strokeWidth": 3.5},
   "encoding": {
    "x": {"field": "x", "type": "quantitative", "axis": null},
    "y": {"field": "env", "type": "quantitative", "axis": null}}},
  {"data": {"values": [{}]}, "mark": {"type": "text", "fontSize": 47}, "encoding": {"x": {"datum": 78.49, "axis": null}, "y": {"datum": 4470, "axis": null}, "text": {"value": "Al₂O₃:Zr("}}},
  {"data": {"values": [{}]}, "mark": {"type": "text", "fontSize": 47, "color": "#FF0000"}, "encoding": {"x": {"datum": 76.53, "axis": null}, "y": {"datum": 4470, "axis": null}, "text": {"value": "O₃"}}},
  {"data": {"values": [{}]}, "mark": {"type": "text", "fontSize": 47}, "encoding": {"x": {"datum": 75.93, "axis": null}, "y": {"datum": 4470, "axis": null}, "text": {"value": ")"}}},
  {"data": {"values": [{}]}, "mark": {"type": "text", "fontSize": 47}, "encoding": {"x": {"datum": 78.49, "axis": null}, "y": {"datum": 3972, "axis": null}, "text": {"value": "Al2p"}}},
  {"data": {"values": [{}]}, "mark": {"type": "text", "fontSize": 40, "lineHeight": 59}, "encoding": {"x": {"datum": 78.49, "axis": null}, "y": {"datum": 2771, "axis": null}, "text": {"value": ["Al₂O₃ - 100%", "FWHM 1.7 eV"]}}}
 ]
},
{
 "width": 974, "height": 782,
 "data": {"name": "e"},
 "title": {"text": "(e)", "offset": 94},
 "resolve": {"scale": {"color": "independent"}, "axis": {"x": "independent", "y": "independent"}},
 "layer": [
  {"transform": [{"fold": ["bg","r","b"], "as": ["curve","v"]}],
   "mark": {"type": "line", "strokeWidth": 3},
   "encoding": {
    "x": {"field": "x", "type": "quantitative", "scale": {"domain": [525, 538], "reverse": true, "nice": false, "zero": false}, "axis": {"orient": "bottom", "values": [526,528,530,532,534,536,538], "title": "Binding energy (eV)"}},
    "y": {"field": "v", "type": "quantitative", "scale": {"domain": [0, 5000], "nice": false, "zero": false}, "axis": {"orient": "left", "values": [0,1000,2000,3000,4000,5000], "title": "CPS (a.u.)"}},
    "color": {"field": "curve", "type": "nominal", "scale": {"domain": ["b","r","bg","env"], "range": ["#0000FF","#FF0000","#FF00FF","#8B0000"]}, "legend": {"title": null, "values": ["b","r","bg","env"], "labelExpr": "datum.value=='b'?'O₃Al₂':datum.value=='r'?'OAlₓ':datum.value=='bg'?'Backg.':'Envelope'", "legendX": 750, "legendY": 70}}
   }},
  {"mark": {"type": "line", "color": "#5a5a5a", "strokeWidth": 3},
   "encoding": {
    "x": {"field": "x", "type": "quantitative", "axis": {"orient": "bottom", "values": [525,527,529,531,533,535,537], "tickSize": 7, "labels": false, "title": null}},
    "y": {"field": "cps", "type": "quantitative", "axis": null}}},
  {"mark": {"type": "point", "filled": true, "size": 150, "opacity": 1},
   "encoding": {
    "x": {"field": "x", "type": "quantitative", "axis": null},
    "y": {"field": "cps", "type": "quantitative", "axis": null},
    "color": {"datum": "CPS", "type": "nominal", "scale": {"range": ["#4a4a4a"]}, "legend": {"title": null, "symbolType": "M-1,-0.045H1V0.045H-1Z M0.2,0A0.2,0.2,0,1,1,-0.2,0A0.2,0.2,0,1,1,0.2,0Z", "symbolStrokeWidth": 0, "legendX": 750, "legendY": 36}}}},
  {"mark": {"type": "line", "color": "#8B0000", "strokeWidth": 3.5},
   "encoding": {
    "x": {"field": "x", "type": "quantitative", "axis": null},
    "y": {"field": "env", "type": "quantitative", "axis": null}}},
  {"data": {"values": [{}]}, "mark": {"type": "text", "fontSize": 47}, "encoding": {"x": {"datum": 537.33, "axis": null}, "y": {"datum": 4470, "axis": null}, "text": {"value": "Al₂O₃:Zr("}}},
  {"data": {"values": [{}]}, "mark": {"type": "text", "fontSize": 47, "color": "#FF0000"}, "encoding": {"x": {"datum": 534.77, "axis": null}, "y": {"datum": 4470, "axis": null}, "text": {"value": "O₃"}}},
  {"data": {"values": [{}]}, "mark": {"type": "text", "fontSize": 47}, "encoding": {"x": {"datum": 534.0, "axis": null}, "y": {"datum": 4470, "axis": null}, "text": {"value": ")"}}},
  {"data": {"values": [{}]}, "mark": {"type": "text", "fontSize": 47}, "encoding": {"x": {"datum": 537.33, "axis": null}, "y": {"datum": 3972, "axis": null}, "text": {"value": "O1s"}}},
  {"data": {"values": [{}]}, "mark": {"type": "text", "fontSize": 40, "lineHeight": 59}, "encoding": {"x": {"datum": 537.33, "axis": null}, "y": {"datum": 2771, "axis": null}, "text": {"value": ["O₃Al₂ - 80.1%", "FWHM 2.9 eV"]}}},
  {"data": {"values": [{}]}, "mark": {"type": "text", "fontSize": 40, "lineHeight": 51}, "encoding": {"x": {"datum": 537.33, "axis": null}, "y": {"datum": 1756, "axis": null}, "text": {"value": ["OAl-C - 19.9%", "FWHM 1.8 eV"]}}}
 ]
}
],
"spacing": 1190,
"bounds": "flush",
"resolve": {"scale": {"color": "independent"}, "legend": {"color": "independent"}}
}
],
"spacing": 166,
"resolve": {"scale": {"color": "independent"}, "legend": {"color": "independent"}}
}
